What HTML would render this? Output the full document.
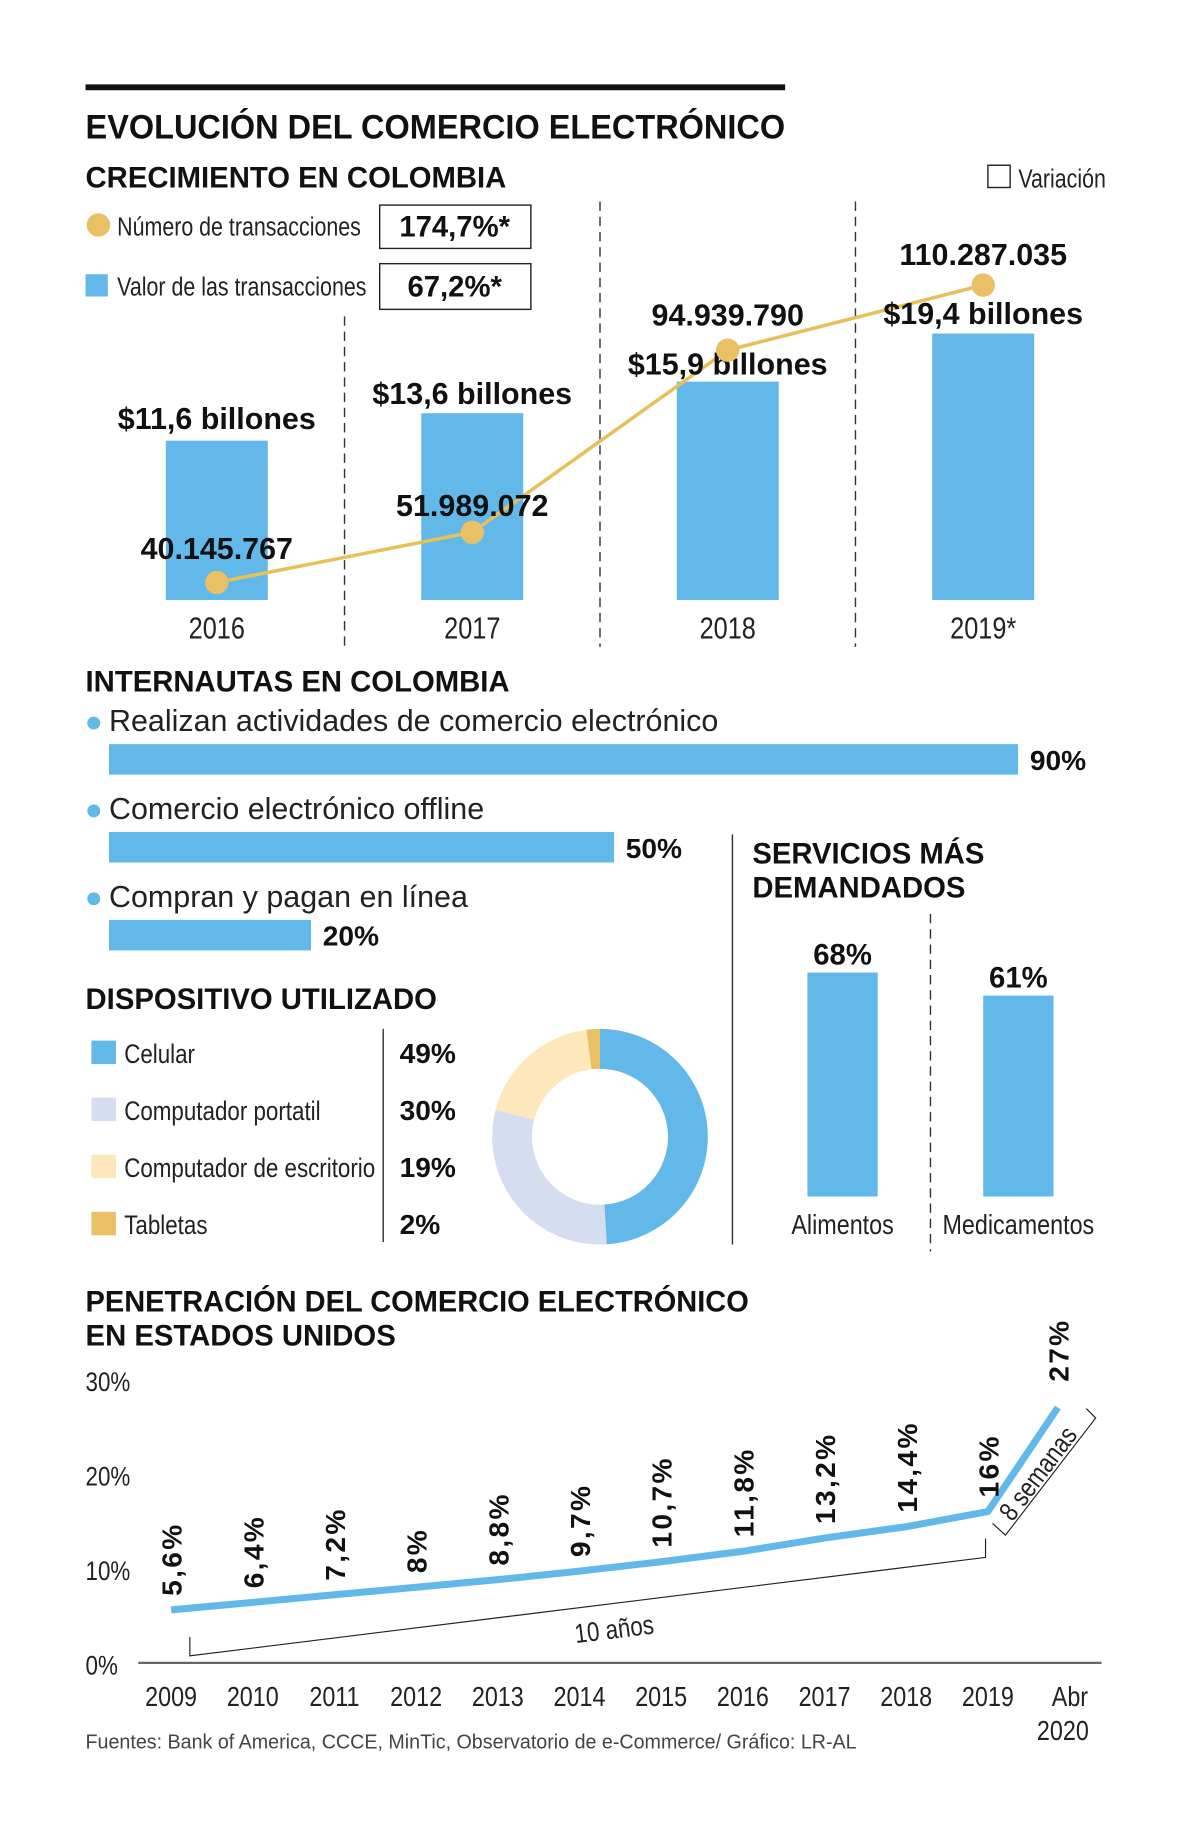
<!DOCTYPE html>
<html><head><meta charset="utf-8">
<style>
html,body{margin:0;padding:0;background:#fff;width:1200px;height:1838px;overflow:hidden}
svg{display:block}
.nar{font-family:"Liberation Sans Narrow","Liberation Sans",sans-serif}
.sans{font-family:"Liberation Sans",sans-serif}
.h{font-weight:bold;fill:#111}
</style></head><body>
<svg id="c" width="1200" height="1838" viewBox="0 0 1024 1568.43" xmlns="http://www.w3.org/2000/svg">
<rect x="73" y="72" width="597" height="5" fill="#111"/>
<text class="sans h" id="mt" x="73" y="118" font-size="29">EVOLUCIÓN DEL COMERCIO ELECTRÓNICO</text>
<text class="sans h" x="73" y="160" font-size="25">CRECIMIENTO EN COLOMBIA</text>
<g>
<rect x="843" y="141" width="19" height="19" fill="none" stroke="#222" stroke-width="1.2"/>
<text class="nar" x="869" y="160" font-size="22" fill="#222">Variación</text></g>
<g>
<circle cx="84" cy="192" r="10" fill="#e9c063"/>
<text class="nar" x="100" y="201" font-size="22" fill="#222">Número de transacciones</text>
<rect x="324" y="175" width="129" height="37" fill="none" stroke="#222" stroke-width="1.2"/>
<text class="sans h" x="388" y="202" font-size="25" text-anchor="middle">174,7%*</text></g>
<g>
<rect x="73" y="234" width="19" height="19" fill="#62b8e8"/>
<text class="nar" x="100" y="252" font-size="22" fill="#222">Valor de las transacciones</text>
<rect x="324" y="225" width="129" height="39" fill="none" stroke="#222" stroke-width="1.2"/>
<text class="sans h" x="388" y="253" font-size="25" text-anchor="middle">67,2%*</text></g>
<g stroke="#333" stroke-width="1.2" stroke-dasharray="8,5">
<line x1="294" y1="270" x2="294" y2="552"/><line x1="512" y1="172" x2="512" y2="552"/><line x1="730" y1="172" x2="730" y2="552"/></g>
<g id="g1"></g>

<text class="sans h" x="73" y="590" font-size="25">INTERNAUTAS EN COLOMBIA</text>
<g id="g2"></g>

<text class="sans h" x="73" y="861" font-size="25">DISPOSITIVO UTILIZADO</text>
<line x1="327" y1="878" x2="327" y2="1060" stroke="#333" stroke-width="1.2"/>
<g id="g3"></g>

<line x1="625" y1="712" x2="625" y2="1062" stroke="#333" stroke-width="1.2"/>
<text class="sans h" x="642" y="737" font-size="25">SERVICIOS MÁS</text>
<text class="sans h" x="642" y="766" font-size="25">DEMANDADOS</text>
<line x1="794" y1="780" x2="794" y2="1068" stroke="#333" stroke-width="1.2" stroke-dasharray="8,5"/>
<g id="g4"></g>

<text class="sans h" id="pt" x="73" y="1119" font-size="25">PENETRACIÓN DEL COMERCIO ELECTRÓNICO</text>
<text class="sans h" x="73" y="1148" font-size="25">EN ESTADOS UNIDOS</text>
<g id="g5"></g>
<text class="sans" id="src" x="73" y="1492" font-size="17" fill="#444">Fuentes: Bank of America, CCCE, MinTic, Observatorio de e-Commerce/ Gráfico: LR-AL</text>
</svg>
<script>
const years1=["2016","2017","2018","2019*"];
const valueBillions=[11.6,13.6,15.9,19.4];
const valueLabels=["$11,6 billones","$13,6 billones","$15,9 billones","$19,4 billones"];
const txCount=[40.145767,51.989072,94.93979,110.287035];
const txLabels=["40.145.767","51.989.072","94.939.790","110.287.035"];
const netCats=["Realizan actividades de comercio electrónico","Comercio electrónico offline","Compran y pagan en línea"];
const netVals=[90,50,20];
const devCats=["Celular","Computador portatil","Computador de escritorio","Tabletas"];
const devVals=[49,30,19,2];
const svcCats=["Alimentos","Medicamentos"];
const svcVals=[68,61];
const penYears=["2009","2010","2011","2012","2013","2014","2015","2016","2017","2018","2019","Abr"];
const penVals=[5.6,6.4,7.2,8,8.8,9.7,10.7,11.8,13.2,14.4,16,27];
const penLabels=["5,6%","6,4%","7,2%","8%","8,8%","9,7%","10,7%","11,8%","13,2%","14,4%","16%","27%"];
const penTicks=[0,10,20,30];

const NS="http://www.w3.org/2000/svg";
function mk(p,t,a,txt){const e=document.createElementNS(NS,t);for(const k in a)e.setAttribute(k,a[k]);if(txt!==undefined)e.textContent=txt;p.appendChild(e);return e;}
const blue="#62b8e8",gold="#e9c063";

const g1=document.getElementById('g1');
const x1=i=>185+i*218, yB=v=>512-v*11.72, yL=v=>642.3-v*3.618;
valueBillions.forEach((v,i)=>{
 const r=mk(g1,'rect',{x:x1(i)-43.5,y:yB(v),width:87,height:512-yB(v),fill:blue});
 
 
 const t=mk(g1,'text',{x:x1(i),y:545,'font-size':26,'text-anchor':'middle',fill:'#222',class:'nar'},years1[i]);
 
 
});
let pts=txCount.map((v,i)=>x1(i)+','+yL(v)).join(' ');
const pl=mk(g1,'polyline',{points:pts,fill:'none',stroke:'#e8c05a','stroke-width':3});


const labOffV=[-10,-8,-6,-8], labOffT=[-20,-14,-21,-17];
valueBillions.forEach((v,i)=>{
 const l=mk(g1,'text',{x:x1(i),y:yB(v)+labOffV[i],'font-size':26,'text-anchor':'middle',class:'sans h'},valueLabels[i]);
 
 
});
txCount.forEach((v,i)=>{
 const c=mk(g1,'circle',{cx:x1(i),cy:yL(v),r:10,fill:gold});
 
 
 const l=mk(g1,'text',{x:x1(i),y:yL(v)+labOffT[i],'font-size':26,'text-anchor':'middle',class:'sans h'},txLabels[i]);
 
 
});

const g2=document.getElementById('g2');
netVals.forEach((v,i)=>{
 const y=635+i*75;
 const d=mk(g2,'circle',{cx:80,cy:y-18,r:5.5,fill:blue});
 
 
 const t=mk(g2,'text',{x:93,y:y-11,'font-size':26,fill:'#222',class:'sans'},netCats[i]);
 
 
 const w=v*8.62;
 const r=mk(g2,'rect',{x:93,y:y,width:w,height:26,fill:blue});
 
 
 const p=mk(g2,'text',{x:93+w+10,y:y+22,'font-size':24,class:'sans h'},v+'%');
 
 
});

const g3=document.getElementById('g3');
const devCol=["#62b8e8","#d5ddf1","#fde7bb","#e9c063"];
devVals.forEach((v,i)=>{
 const y=888+i*48.7;
 const s=mk(g3,'rect',{x:78,y:y,width:21,height:20,fill:devCol[i]});
 
 
 const t=mk(g3,'text',{x:106,y:y+19,'font-size':23,fill:'#222',class:'nar'},devCats[i]);
 
 
 const p=mk(g3,'text',{x:341,y:y+19,'font-size':24,class:'sans h'},v+'%');
 
 
});
const cx=512,cy=970,R=92,r0=58,tot=devVals.reduce((a,b)=>a+b,0);
let a0=0;
devVals.forEach((v,i)=>{
 const a1=a0+v/tot*2*Math.PI;
 const P=(a,rr)=>[cx+rr*Math.sin(a),cy-rr*Math.cos(a)];
 const [x0,y0]=P(a0,R),[x1_,y1_]=P(a1,R),[x2,y2]=P(a1,r0),[x3,y3]=P(a0,r0);
 const lg=(a1-a0)>Math.PI?1:0;
 const p=mk(g3,'path',{d:`M${x0},${y0}A${R},${R} 0 ${lg} 1 ${x1_},${y1_}L${x2},${y2}A${r0},${r0} 0 ${lg} 0 ${x3},${y3}Z`,fill:devCol[i]});
 
 
 a0=a1;
});

const g4=document.getElementById('g4');
svcVals.forEach((v,i)=>{
 const xc=719+i*150, top=1021-v*2.81;
 const r=mk(g4,'rect',{x:xc-30,y:top,width:60,height:1021-top,fill:blue});
 
 
 const p=mk(g4,'text',{x:xc,y:top-7,'font-size':25,'text-anchor':'middle',class:'sans h'},v+'%');
 
 
 const t=mk(g4,'text',{x:xc,y:1053,'font-size':24,'text-anchor':'middle',fill:'#222',class:'nar'},svcCats[i]);
 
 
});

const g5=document.getElementById('g5');
const px=i=>146+i*69.7-(i==11?10:0), py=v=>1419-v*8.07;
penTicks.forEach(t=>{
 const e=mk(g5,'text',{x:73,y:py(t)+10,'font-size':23,fill:'#222',class:'nar'},t+'%');
 
 
});
const ax=mk(g5,'line',{x1:118,y1:1419,x2:940,y2:1419,stroke:'#666','stroke-width':2});


penYears.forEach((y,i)=>{
 const e=mk(g5,'text',{x:i==11?913:px(i),y:1456,'font-size':24,'text-anchor':'middle',fill:'#222',class:'nar'},y);
 
 
});
const e2=mk(g5,'text',{x:907,y:1485,'font-size':24,'text-anchor':'middle',fill:'#222',class:'nar'},'2020');


mk(g5,'polyline',{points:'162,1397 162,1413 841,1329 841,1313',fill:'none',stroke:'#222','stroke-width':1});
const ta=mk(g5,'text',{x:0,y:0,'font-size':23,'text-anchor':'middle',fill:'#222',class:'nar',transform:'translate(525,1398) rotate(-7)'},'10 años');


mk(g5,'polyline',{points:'847,1300 858,1310 935,1210 927,1202',fill:'none',stroke:'#222','stroke-width':1});
const tb=mk(g5,'text',{x:0,y:0,'font-size':23,'text-anchor':'middle',fill:'#222',class:'nar',transform:'translate(892,1262) rotate(-53)'},'8 semanas');


const ln=mk(g5,'polyline',{points:penVals.map((v,i)=>px(i)+','+py(v)).join(' '),fill:'none',stroke:blue,'stroke-width':6,'stroke-linejoin':'round'});


penVals.forEach((v,i)=>{
 const x=px(i)+9, y=py(v)-12-(i==11?10:0);
 const t=mk(g5,'text',{x:0,y:0,'font-size':24,'letter-spacing':2,class:'sans h',transform:`translate(${x},${y}) rotate(-90)`},penLabels[i]);
 
 
});

document.querySelectorAll('text.nar').forEach(t=>{
 const L=t.getComputedTextLength();
 t.setAttribute('textLength',(L*0.83).toFixed(1));
 t.setAttribute('lengthAdjust','spacingAndGlyphs');
});
const mt=document.getElementById('mt');
mt.setAttribute('textLength','597');
mt.setAttribute('lengthAdjust','spacingAndGlyphs');
const pt=document.getElementById('pt');
pt.setAttribute('textLength','566');
pt.setAttribute('lengthAdjust','spacingAndGlyphs');
const src=document.getElementById('src');
src.setAttribute('textLength','658');
src.setAttribute('lengthAdjust','spacingAndGlyphs');
</script>
</body></html>
